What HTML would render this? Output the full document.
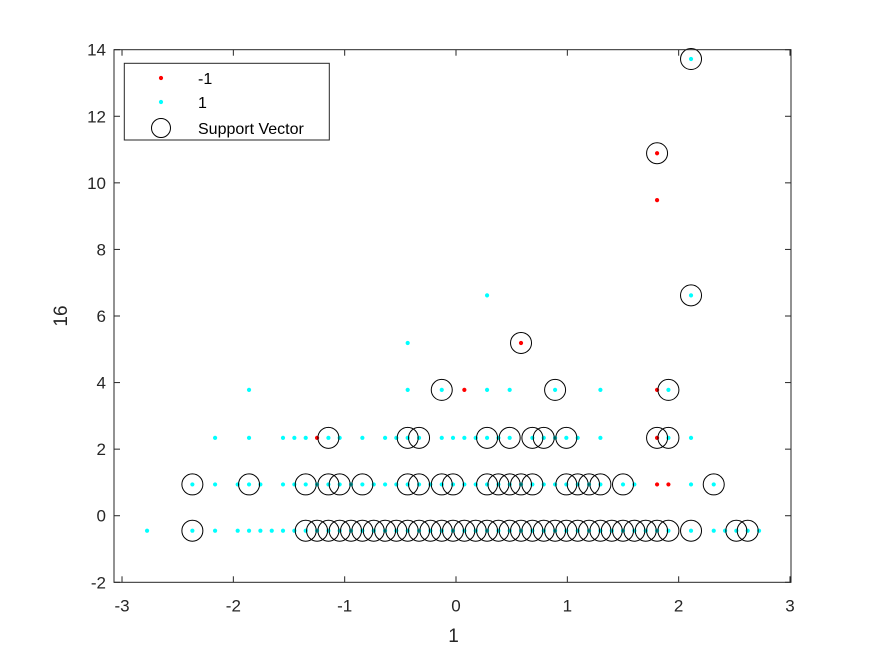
<!DOCTYPE html>
<html><head><meta charset="utf-8"><style>
html,body{margin:0;padding:0;background:#fff;}
svg{display:block;font-family:"Liberation Sans",Arial,sans-serif;}
</style></head><body>
<svg id="chart" width="875" height="656" viewBox="0 0 875 656">
<rect x="0" y="0" width="875" height="656" fill="#fff"/>
<g id="marks"></g>
<g id="axes"></g>
</svg>
<script>
// ---- data ----
const rowY = [-0.45, 0.94, 2.34, 3.78];
const posRow0 = [-2.775,-2.368,-2.164,-1.961,-1.859,-1.757,-1.655,-1.554,-1.452,-1.350,-1.248,-1.146,-1.045,-0.943,-0.841,-0.739,-0.637,-0.536,-0.434,-0.332,-0.230,-0.128,-0.027,0.075,0.177,0.279,0.381,0.482,0.584,0.686,0.788,0.890,0.991,1.093,1.195,1.297,1.399,1.500,1.602,1.704,1.806,1.908,2.111,2.315,2.417,2.518,2.620,2.722];
const posRow1 = [-2.368,-2.164,-1.961,-1.859,-1.757,-1.554,-1.452,-1.350,-1.248,-1.146,-1.045,-0.943,-0.841,-0.739,-0.637,-0.536,-0.434,-0.332,-0.230,-0.128,-0.027,0.075,0.177,0.279,0.381,0.482,0.584,0.686,0.788,0.890,0.991,1.093,1.195,1.297,1.500,1.602,2.111,2.315];
const posRow2 = [-2.164,-1.859,-1.554,-1.452,-1.350,-1.146,-1.045,-0.841,-0.637,-0.536,-0.434,-0.332,-0.128,-0.027,0.075,0.177,0.279,0.381,0.482,0.686,0.788,0.890,0.991,1.093,1.297,1.908,2.111];
const posRow3 = [-1.859,-0.434,-0.128,0.279,0.482,0.890,1.297,1.908];
const posExtraX = [-0.434, 0.279, 2.111, 2.111];
const posExtraY = [5.19, 6.62, 6.62, 13.72];
const negX = [-1.248, 1.806, 0.075, 1.806, 0.584, 1.806, 1.806, 1.806, 1.908];
const negY = [2.34, 2.34, 3.78, 3.78, 5.19, 9.48, 10.89, 0.94, 0.94];
const svRow0 = [-2.368,-1.350,-1.248,-1.146,-1.045,-0.943,-0.841,-0.739,-0.637,-0.536,-0.434,-0.332,-0.230,-0.128,-0.027,0.075,0.177,0.279,0.381,0.482,0.584,0.686,0.788,0.890,0.991,1.093,1.195,1.297,1.399,1.500,1.602,1.704,1.806,1.908,2.111,2.518,2.620];
const svRow1 = [-2.368,-1.859,-1.350,-1.146,-1.045,-0.841,-0.434,-0.332,-0.128,-0.027,0.279,0.381,0.482,0.584,0.686,0.991,1.093,1.195,1.297,1.500,2.315];
const svRow2 = [-1.146,-0.434,-0.332,0.279,0.482,0.686,0.788,0.991,1.806,1.908];
const svRow3 = [-0.128,0.890,1.908];
const svExtraX = [0.584, 2.111, 1.806, 2.111];
const svExtraY = [5.19, 6.62, 10.89, 13.72];
const xTicks = [-3,-2,-1,0,1,2,3];
const yTicks = [-2,0,2,4,6,8,10,12,14];

// ---- axes ----
const L=114, R=791, T=49.7, B=582.3;
const xMin=-3.072, xMax=3.009, yMin=-2, yMax=14;
function sx(v){return L+(v-xMin)/(xMax-xMin)*(R-L);}
function sy(v){return B-(v-yMin)/(yMax-yMin)*(B-T);}
const NS="http://www.w3.org/2000/svg";
function mk(tag,attrs,parent){const e=document.createElementNS(NS,tag);for(const k in attrs)e.setAttribute(k,attrs[k]);parent.appendChild(e);return e;}
const marks=document.getElementById('marks');
const axes=document.getElementById('axes');

function dot(x,y,color,name){
  const c=mk('circle',{cx:sx(x),cy:sy(y),r:2.1,fill:color},marks);
  
  
}
function ring(x,y){
  const c=mk('circle',{cx:sx(x),cy:sy(y),r:10.5,fill:'none',stroke:'#000','stroke-width':1},marks);
  
  
}
const posRows=[posRow0,posRow1,posRow2,posRow3];
posRows.forEach((row,i)=>row.forEach(x=>dot(x,rowY[i],'#00ffff','class-1-point')));
posExtraX.forEach((x,i)=>dot(x,posExtraY[i],'#00ffff','class-1-point'));
negX.forEach((x,i)=>dot(x,negY[i],'#ff0000','class-neg1-point'));
const svRows=[svRow0,svRow1,svRow2,svRow3];
svRows.forEach((row,i)=>row.forEach(x=>ring(x,rowY[i])));
svExtraX.forEach((x,i)=>ring(x,svExtraY[i]));

// frame
const frame=mk('rect',{x:L,y:T,width:R-L,height:B-T,fill:'none',stroke:'#262626','stroke-width':1},axes);


xTicks.forEach(t=>{
  const X=sx(t);
  mk('line',{x1:X,y1:B,x2:X,y2:B-6,stroke:'#262626'},axes);
  mk('line',{x1:X,y1:T,x2:X,y2:T+6,stroke:'#262626'},axes);
  const tx=mk('text',{x:X,y:B+29,'text-anchor':'middle','font-size':17,fill:'#262626'},axes);
  tx.textContent=String(t);
  
  
});
yTicks.forEach(t=>{
  const Y=sy(t);
  mk('line',{x1:L,y1:Y,x2:L+6,y2:Y,stroke:'#262626'},axes);
  mk('line',{x1:R,y1:Y,x2:R-6,y2:Y,stroke:'#262626'},axes);
  const tx=mk('text',{x:L-8,y:Y+6,'text-anchor':'end','font-size':17,fill:'#262626'},axes);
  tx.textContent=String(t);
  
  
});
const xl=mk('text',{x:(L+R)/2+1,y:642,'text-anchor':'middle','font-size':19,fill:'#262626'},axes);
xl.textContent='1';


const yl=mk('text',{x:0,y:0,'text-anchor':'middle','font-size':19,fill:'#262626',transform:'translate(67,316) rotate(-90)'},axes);
yl.textContent='16';



// legend
const lg=mk('g',{},axes);


mk('rect',{x:124.3,y:63.3,width:205,height:76.7,fill:'#fff',stroke:'#262626','stroke-width':1},lg);
mk('circle',{cx:161,cy:78,r:2.1,fill:'#ff0000'},lg);
mk('circle',{cx:161,cy:102,r:2.1,fill:'#00ffff'},lg);
mk('circle',{cx:161,cy:128,r:9.5,fill:'none',stroke:'#000'},lg);
const labels=['-1','1','Support Vector'];
const ly=[84,108,134];
labels.forEach((s,i)=>{
  const t=mk('text',{x:198,y:ly[i],'font-size':16,fill:'#000'},lg);
  t.textContent=s;
  
  
});
</script>
</body></html>
